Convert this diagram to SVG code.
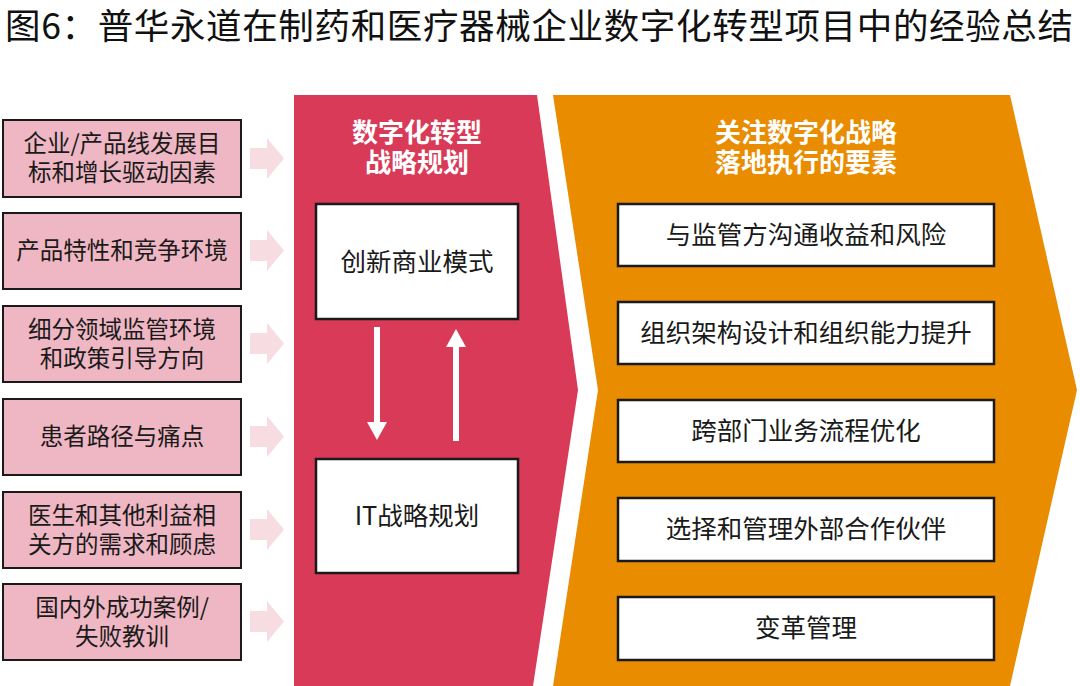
<svg xmlns="http://www.w3.org/2000/svg" width="1080" height="686" viewBox="0 0 1080 686">
<style>
text{font-family:"Noto Sans CJK SC","Noto Sans",sans-serif;text-anchor:middle;}
.title{font-size:35.5px;fill:#111;text-anchor:start;}
.lb{fill:#efb7c3;stroke:#1a1a1a;stroke-width:2;}
.lt{font-size:23.5px;fill:#1a1a1a;}
.wb{fill:#fff;stroke:#1a1a1a;stroke-width:2.5;}
.wt{font-size:25.5px;fill:#1a1a1a;}
.ht{font-size:26px;fill:#fff;font-weight:bold;}
.pa{fill:#f7dce2;}
.conn{stroke:#fff;stroke-width:6;fill:none;}
</style>
<defs>
<marker id="ah" markerUnits="userSpaceOnUse" markerWidth="22" markerHeight="20" refX="2" refY="10" orient="auto">
<polygon points="0,0 18,10 0,20" fill="#fff"/>
</marker>
</defs>
<rect width="1080" height="686" fill="#fff"/>
<text class="title" x="5" y="39" textLength="1068" lengthAdjust="spacing">图6：普华永道在制药和医疗器械企业数字化转型项目中的经验总结</text>

<g id="stage-strategy">
<polygon points="294,95 537,95 578,390 533,686 294,686" fill="#d93a58"/>
<text class="ht" x="417" y="142">数字化转型<tspan x="417" dy="30">战略规划</tspan></text>
</g>
<g id="stage-execution">
<polygon points="553,95 1010,95 1077,390 1010,686 553,686 598,390" fill="#e98c00"/>
<text class="ht" x="806" y="142">关注数字化战略<tspan x="806" dy="30">落地执行的要素</tspan></text>
</g>

<g id="in1"><rect class="lb" x="3" y="120" width="238" height="77"/><text class="lt" x="122" y="152">企业/产品线发展目<tspan x="122" dy="29">标和增长驱动因素</tspan></text></g>
<g id="in2"><rect class="lb" x="3" y="213" width="238" height="76"/><text class="lt" x="122" y="259">产品特性和竞争环境</text></g>
<g id="in3"><rect class="lb" x="3" y="306" width="238" height="76"/><text class="lt" x="122" y="338">细分领域监管环境<tspan x="122" dy="29">和政策引导方向</tspan></text></g>
<g id="in4"><rect class="lb" x="3" y="399" width="238" height="76"/><text class="lt" x="122" y="445">患者路径与痛点</text></g>
<g id="in5"><rect class="lb" x="3" y="492" width="238" height="76"/><text class="lt" x="122" y="524">医生和其他利益相<tspan x="122" dy="29">关方的需求和顾虑</tspan></text></g>
<g id="in6"><rect class="lb" x="3" y="584" width="238" height="76"/><text class="lt" x="122" y="616">国内外成功案例/<tspan x="122" dy="29">失败教训</tspan></text></g>

<g id="n-bm"><rect class="wb" x="316" y="204" width="202" height="115"/><text class="wt" x="417" y="271">创新商业模式</text></g>
<g id="n-it"><rect class="wb" x="316" y="459" width="202" height="114"/><text class="wt" x="417" y="525">IT战略规划</text></g>

<g id="e1"><rect class="wb" x="618" y="204" width="376" height="62"/><text class="wt" x="806" y="244">与监管方沟通收益和风险</text></g>
<g id="e2"><rect class="wb" x="618" y="302" width="376" height="62"/><text class="wt" x="806" y="342">组织架构设计和组织能力提升</text></g>
<g id="e3"><rect class="wb" x="618" y="400" width="376" height="62"/><text class="wt" x="806" y="440">跨部门业务流程优化</text></g>
<g id="e4"><rect class="wb" x="618" y="498" width="376" height="63"/><text class="wt" x="806" y="538">选择和管理外部合作伙伴</text></g>
<g id="e5"><rect class="wb" x="618" y="597" width="376" height="63"/><text class="wt" x="806" y="637">变革管理</text></g>

<g id="connectors">
<line class="conn" x1="377" y1="327" x2="377" y2="424" marker-end="url(#ah)"/>
<line class="conn" x1="456" y1="441" x2="456" y2="345" marker-end="url(#ah)"/>
<polygon class="pa" points="250,148 267,148 267,138 284,158.5 267,179 267,169 250,169"/>
<polygon class="pa" points="250,240 267,240 267,230 284,250.5 267,271 267,261 250,261"/>
<polygon class="pa" points="250,333 267,333 267,323 284,343.5 267,364 267,354 250,354"/>
<polygon class="pa" points="250,426 267,426 267,416 284,436.5 267,457 267,447 250,447"/>
<polygon class="pa" points="250,519 267,519 267,509 284,529.5 267,550 267,540 250,540"/>
<polygon class="pa" points="250,611 267,611 267,601 284,621.5 267,642 267,632 250,632"/>
</g>
</svg>
